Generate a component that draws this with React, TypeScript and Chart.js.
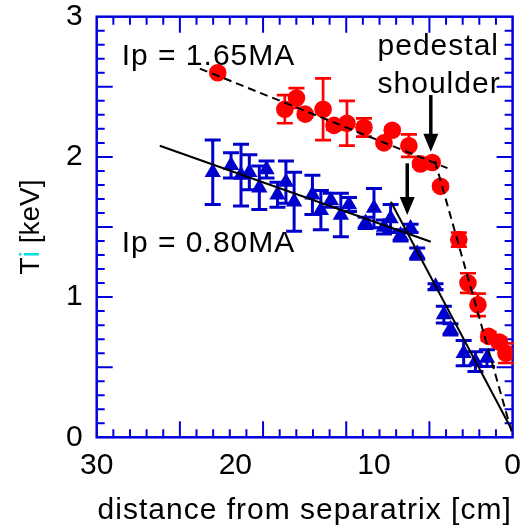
import React, { useEffect, useRef } from "react";
import { Chart, registerables } from "chart.js";

Chart.register(...registerables);

// ---------- data ----------
const xTickLabels = [30, 20, 10, 0];
const yTickLabels = [0, 1, 2, 3];

// Ip = 1.65 MA (red circles)
const redX = [21.27, 16.43, 15.59, 14.96, 13.67, 12.88, 11.95, 10.72, 9.28, 8.68, 7.48, 6.65, 5.8, 5.2, 3.88, 3.22, 2.5, 1.73, 0.96, 0.48];
const redY = [2.6, 2.34, 2.42, 2.305, 2.34, 2.225, 2.24, 2.21, 2.1, 2.19, 2.08, 1.95, 1.96, 1.79, 1.41, 1.1, 0.945, 0.72, 0.68, 0.6];
const redErr = [0.02, 0.1, 0.07, 0.02, 0.22, 0.03, 0.16, 0.065, 0.02, 0.02, 0.08, 0.02, 0.02, 0.02, 0.05, 0.07, 0.08, 0.03, 0.03, 0.07];

// Ip = 0.80 MA (blue triangles)
const blueX = [21.63, 20.31, 19.59, 18.99, 18.27, 17.75, 16.96, 16.35, 15.76, 14.44, 13.83, 13.11, 12.39, 11.8, 10.6, 10.0, 9.28, 8.8, 8.08, 7.36, 6.88, 5.56, 4.96, 4.48, 3.53, 2.68, 1.85];
const blueY = [1.89, 1.94, 1.87, 1.89, 1.78, 1.91, 1.73, 1.82, 1.68, 1.73, 1.62, 1.69, 1.585, 1.66, 1.53, 1.635, 1.5, 1.56, 1.44, 1.49, 1.31, 1.075, 0.875, 0.77, 0.6, 0.54, 0.565];
const blueErr = [0.23, 0.09, 0.22, 0.125, 0.155, 0.06, 0.09, 0.15, 0.21, 0.14, 0.14, 0.05, 0.155, 0.05, 0.04, 0.14, 0.05, 0.1, 0.04, 0.03, 0.04, 0.02, 0.06, 0.04, 0.09, 0.07, 0.06];

// fit lines
const redFitAX = [22.56, 4.7];
const redFitAY = [2.63, 1.92];
const redFitBX = [5.6, 0.07];
const redFitBY = [1.97, 0.04];
const blueFitAX = [25.45, 5.9];
const blueFitAY = [2.08, 1.395];
const blueFitBX = [8.78, 0.04];
const blueFitBY = [1.68, 0.05];

// annotations (data coordinates)
const labels = [
  { text: "Ip = 1.65MA", x: 28.2, y: 2.655 },
  { text: "Ip = 0.80MA", x: 28.2, y: 1.324 },
  { text: "pedestal", x: 9.74, y: 2.727 },
  { text: "shoulder", x: 9.74, y: 2.454 },
];
const arrows = [
  { x: 5.9, yFrom: 2.441, yTo: 2.037 },
  { x: 7.6, yFrom: 1.954, yTo: 1.586 },
];

// ---------- styles ----------
const FONT = "'Liberation Sans', Arial, sans-serif";
const AXIS_BLUE = "#0000dd";
const BLUE = "#0000cc";
const RED = "#ff0000";
const CYAN = "#00e0e0";
const X_MINOR_STEP = 1.2;
const X_MINOR_COUNT = 25;
const Y_MINOR_STEP = 0.1;
const Y_MINOR_COUNT = 30;

const pts = (xs: number[], ys: number[]) => xs.map((x, i) => ({ x, y: ys[i] }));

const zeroPad = (s: any) => {
  s.paddingTop = 0;
  s.paddingBottom = 0;
  s.paddingLeft = 0;
  s.paddingRight = 0;
};

const decorPlugin = {
  id: "decor",
  beforeDatasetsDraw(chart: any) {
    const { ctx, chartArea: a, scales } = chart;
    const xs = scales.x;
    const ys = scales.y;
    ctx.save();
    // ticks
    ctx.strokeStyle = AXIS_BLUE;
    ctx.lineWidth = 2;
    ctx.beginPath();
    for (let i = 1; i < X_MINOR_COUNT; i++) {
      const px = xs.getPixelForValue(i * X_MINOR_STEP);
      const len = i % 5 === 0 ? 16 : 8;
      ctx.moveTo(px, a.bottom);
      ctx.lineTo(px, a.bottom - len);
      ctx.moveTo(px, a.top);
      ctx.lineTo(px, a.top + len);
    }
    for (let i = 1; i < Y_MINOR_COUNT; i++) {
      const py = ys.getPixelForValue(i * Y_MINOR_STEP);
      const len = i % 5 === 0 ? 16 : 8;
      ctx.moveTo(a.left, py);
      ctx.lineTo(a.left + len, py);
      ctx.moveTo(a.right, py);
      ctx.lineTo(a.right - len, py);
    }
    ctx.stroke();
    ctx.lineWidth = 2.5;
    ctx.strokeRect(a.left, a.top, a.right - a.left, a.bottom - a.top);

    // error bars
    const drawErr = (xArr: number[], yArr: number[], eArr: number[], color: string, lw: number) => {
      ctx.strokeStyle = color;
      ctx.lineWidth = lw;
      ctx.beginPath();
      xArr.forEach((xv, i) => {
        const px = xs.getPixelForValue(xv);
        const p1 = ys.getPixelForValue(yArr[i] + eArr[i]);
        const p2 = ys.getPixelForValue(yArr[i] - eArr[i]);
        ctx.moveTo(px, p1);
        ctx.lineTo(px, p2);
        ctx.moveTo(px - 8, p1);
        ctx.lineTo(px + 8, p1);
        ctx.moveTo(px - 8, p2);
        ctx.lineTo(px + 8, p2);
      });
      ctx.stroke();
    };
    drawErr(blueX, blueY, blueErr, BLUE, 3);
    drawErr(redX, redY, redErr, RED, 2.7);
    ctx.restore();
  },
  afterDraw(chart: any) {
    const { ctx, chartArea: a, scales } = chart;
    const xs = scales.x;
    const ys = scales.y;
    ctx.save();
    ctx.fillStyle = "#000";
    ctx.font = `30px ${FONT}`;
    (ctx as any).letterSpacing = "1px";
    ctx.textBaseline = "alphabetic";
    ctx.textAlign = "left";
    labels.forEach((l) => {
      ctx.fillText(l.text, xs.getPixelForValue(l.x), ys.getPixelForValue(l.y));
    });
    // arrows
    ctx.strokeStyle = "#000";
    ctx.lineWidth = 3.5;
    arrows.forEach((ar) => {
      const px = xs.getPixelForValue(ar.x);
      const y1 = ys.getPixelForValue(ar.yFrom);
      const y2 = ys.getPixelForValue(ar.yTo);
      ctx.beginPath();
      ctx.moveTo(px, y1);
      ctx.lineTo(px, y2 - 14);
      ctx.stroke();
      ctx.beginPath();
      ctx.moveTo(px - 7.5, y2 - 18);
      ctx.lineTo(px + 7.5, y2 - 18);
      ctx.lineTo(px, y2);
      ctx.closePath();
      ctx.fill();
    });
    // x title
    ctx.textAlign = "center";
    ctx.fillText("distance from separatrix [cm]", (a.left + a.right) / 2, 519);
    // y title (two colours)
    ctx.font = `28px ${FONT}`;
    (ctx as any).letterSpacing = "0px";
    ctx.translate(39, (a.top + a.bottom) / 2);
    ctx.rotate(-Math.PI / 2);
    ctx.textAlign = "left";
    const parts = [
      { t: "T", c: "#000" },
      { t: "i", c: CYAN },
      { t: " [keV]", c: "#000" },
    ];
    const total = parts.reduce((s, p) => s + ctx.measureText(p.t).width, 0);
    let cx = -total / 2;
    parts.forEach((p) => {
      ctx.fillStyle = p.c;
      ctx.fillText(p.t, cx, 0);
      cx += ctx.measureText(p.t).width;
    });
    ctx.restore();
  },
};

export default function App() {
  const ref = useRef<HTMLCanvasElement>(null);
  useEffect(() => {
    if (!ref.current) return;
    const lineDs = (xs: number[], ys: number[], dash: number[]) => ({
      data: pts(xs, ys),
      showLine: true,
      borderColor: "#000",
      borderWidth: 2,
      borderDash: dash,
      pointRadius: 0,
      fill: false,
    });
    const chart = new Chart(ref.current, {
      type: "scatter",
      data: {
        datasets: [
          lineDs(redFitAX, redFitAY, [8, 5]),
          lineDs(redFitBX, redFitBY, [8, 5]),
          lineDs(blueFitAX, blueFitAY, []),
          lineDs(blueFitBX, blueFitBY, []),
          {
            data: pts(redX, redY),
            pointStyle: "circle",
            pointRadius: 8.8,
            backgroundColor: RED,
            borderWidth: 0,
          },
          {
            data: pts(blueX, blueY),
            pointStyle: "triangle",
            pointRadius: 9.4,
            backgroundColor: BLUE,
            borderWidth: 0,
          },
        ] as any,
      },
      options: {
        animation: false,
        responsive: false,
        events: [],
        layout: { padding: { top: 16.7, right: 8.2, bottom: 0, left: 0 } },
        plugins: { legend: { display: false }, tooltip: { enabled: false } },
        scales: {
          x: {
            type: "linear",
            min: 0,
            max: 30,
            reverse: true,
            grid: { display: false, drawTicks: false },
            border: { display: false },
            afterBuildTicks: (s: any) => {
              s.ticks = xTickLabels.map((v) => ({ value: v }));
            },
            afterFit: (s: any) => {
              s.height = 90.7;
              zeroPad(s);
            },
            ticks: {
              color: "#000",
              padding: 13.5,
              maxRotation: 0,
              minRotation: 0,
              autoSkip: false,
              font: { family: FONT, size: 30, lineHeight: 1 },
            },
          },
          y: {
            type: "linear",
            min: 0,
            max: 3,
            grid: { display: false, drawTicks: false },
            border: { display: false },
            afterBuildTicks: (s: any) => {
              s.ticks = yTickLabels.map((v) => ({ value: v }));
            },
            afterFit: (s: any) => {
              s.width = 96.7;
              zeroPad(s);
            },
            ticks: {
              color: "#000",
              padding: 14,
              autoSkip: false,
              font: { family: FONT, size: 30, lineHeight: 1 },
            },
          },
        },
      } as any,
      plugins: [decorPlugin],
    });
    return () => chart.destroy();
  }, []);
  return (
    <div style={{ position: "absolute", left: 0, top: 0, width: 522, height: 528 }}>
      <canvas ref={ref} width={522} height={528} style={{ display: "block" }} />
    </div>
  );
}
